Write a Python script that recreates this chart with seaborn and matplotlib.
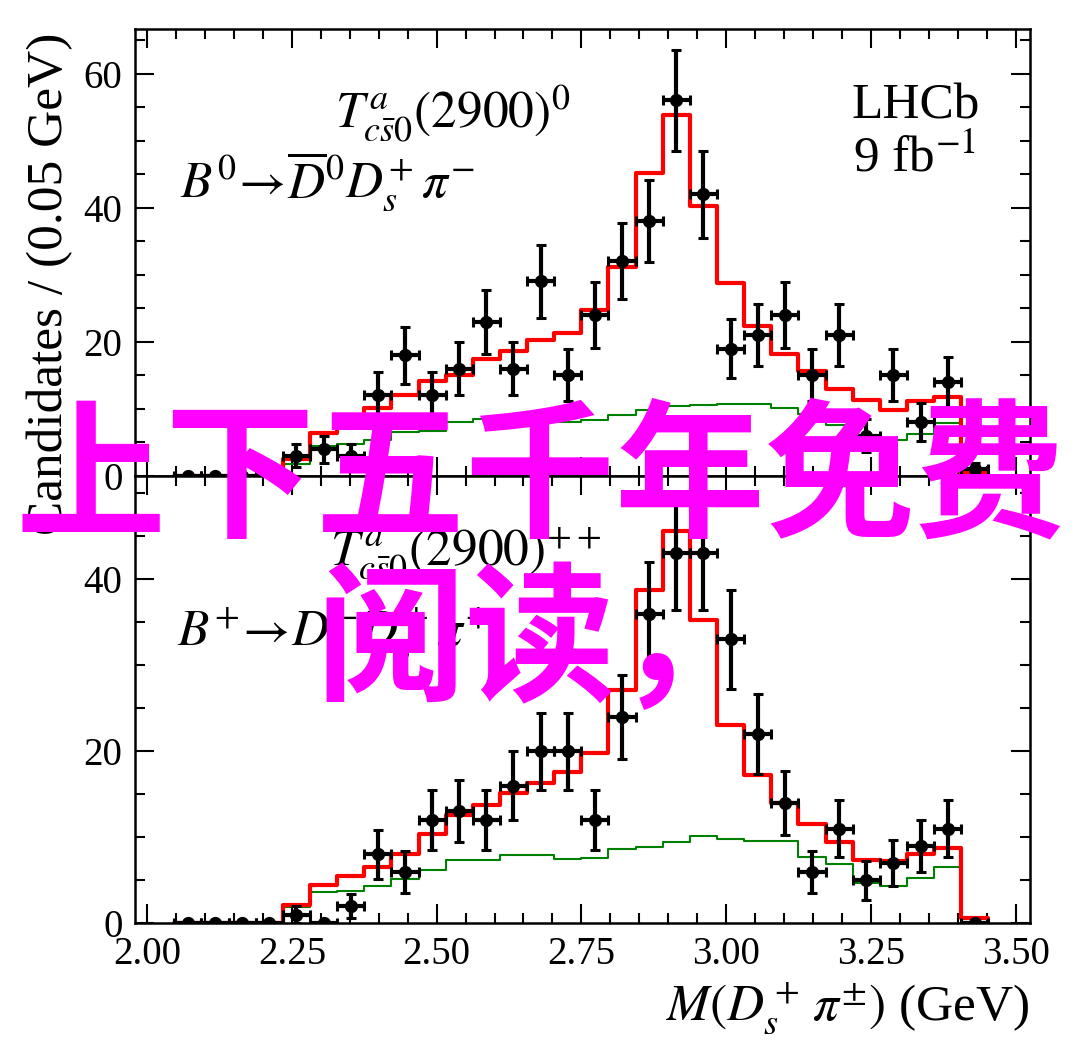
import numpy as np
import pandas as pd
import matplotlib
matplotlib.use("Agg")
import matplotlib.pyplot as plt
import seaborn as sns
from matplotlib.ticker import MultipleLocator, FormatStrFormatter

# 32 bins of 1.5/32 GeV between 2.0 and 3.5 GeV, data/fit shown for bins 1..30
bin_edges = np.linspace(2.0, 3.5, 33)
bin_centres = 0.5 * (bin_edges[:-1] + bin_edges[1:])
shown = slice(1, 31)

# B0 -> D0bar Ds+ pi-
top_counts = [0, 0, 0, 0, 3, 4, 3, 12, 18, 12, 16, 23, 16, 29, 15, 24, 32, 38, 56, 42,
              19, 21, 24, 15, 21, 6, 15, 8, 14, 1]
top_fit = [0, 0, 0, 0, 2.5, 6.4, 9.0, 10.2, 12.0, 14.2, 15.1, 17.5, 18.7, 20.3, 21.3, 24.8,
           31.1, 45.2, 53.8, 40.2, 28.7, 22.3, 18.2, 15.7, 13.0, 11.3, 9.9, 11.2, 11.8, 0.4]
top_bkg = [0, 0, 0, 0, 1.8, 4.4, 4.8, 5.4, 6.5, 6.7, 8.1, 8.5, 8.7, 8.8, 8.0, 8.4,
           9.1, 9.9, 10.4, 10.6, 10.8, 10.8, 10.1, 9.3, 7.6, 6.0, 5.3, 6.2, 7.9, 0.5]

# B+ -> D- Ds+ pi+
bot_counts = [0, 0, 0, 0, 1, 0, 2, 8, 6, 12, 13, 12, 16, 20, 20, 12, 24, 36, 43, 43,
              33, 22, 14, 6, 11, 5, 7, 9, 11, 0]
bot_fit = [0, 0, 0, 0, 2.1, 4.5, 5.5, 6.6, 8.1, 10.4, 12.6, 13.8, 15.2, 16.3, 17.6, 19.8,
           27.1, 38.8, 45.6, 35.3, 23.1, 17.2, 14.0, 11.5, 9.4, 7.4, 7.2, 8.1, 8.8, 0.6]
bot_bkg = [0, 0, 0, 0, 1.9, 3.6, 3.8, 4.3, 5.1, 6.2, 7.4, 7.3, 7.9, 7.9, 7.5, 7.6,
           8.6, 8.9, 9.5, 10.1, 9.8, 9.6, 9.6, 7.7, 6.9, 4.7, 4.3, 5.3, 6.6, 0.6]

sns.set_style("ticks")
plt.rcParams["font.family"] = ["Liberation Serif", "DejaVu Serif"]
plt.rcParams["mathtext.fontset"] = "stix"
for key in ["text.color", "axes.labelcolor", "axes.edgecolor", "xtick.color", "ytick.color"]:
    plt.rcParams[key] = "black"

fig = plt.figure(figsize=(10.8, 10.57), dpi=100)
ax_top = fig.add_axes([0.125, 0.5497, 0.8287, 0.4226])
ax_bot = fig.add_axes([0.125, 0.1265, 0.8287, 0.4232])

x = bin_centres[shown]
half_w = (bin_edges[1] - bin_edges[0]) / 2
hist_bins = [float(e) for e in bin_edges[1:32]]


def draw_panel(ax, counts, fit, bkg, ymax):
    df = pd.DataFrame({"m": x, "fit": fit, "bkg": bkg})
    sns.histplot(data=df, x="m", weights="bkg", bins=hist_bins, element="step",
                 fill=False, color="#008000", linewidth=1.5, ax=ax)
    sns.histplot(data=df, x="m", weights="fit", bins=hist_bins, element="step",
                 fill=False, color="#ff0000", linewidth=3, ax=ax)
    counts = np.array(counts, dtype=float)
    ax.errorbar(x, counts, yerr=np.sqrt(counts), xerr=half_w, fmt="o", color="black",
                ms=8.5, elinewidth=3.0, capsize=3.5, capthick=2.2, zorder=5)
    ax.set_xlim(1.979, 3.525)
    ax.set_ylim(0, ymax)
    ax.set_xlabel("")
    ax.set_ylabel("")
    ax.xaxis.set_major_locator(MultipleLocator(0.25))
    ax.xaxis.set_minor_locator(MultipleLocator(0.05))
    ax.yaxis.set_major_locator(MultipleLocator(20))
    ax.yaxis.set_minor_locator(MultipleLocator(5))
    ax.tick_params(which="both", direction="in", top=True, right=True, width=1.5,
                   labelsize=28, pad=9, colors="black")
    ax.tick_params(which="major", length=13.5)
    ax.tick_params(which="minor", length=7.5)
    for sp in ax.spines.values():
        sp.set_linewidth(1.8)
        sp.set_color("black")


draw_panel(ax_top, top_counts, top_fit, top_bkg, 66.6)
draw_panel(ax_bot, bot_counts, bot_fit, bot_bkg, 52.0)
ax_top.tick_params(labelbottom=False)
ax_bot.xaxis.set_major_formatter(FormatStrFormatter("%.2f"))

fs = 37
ax_top.text(0.2235, 0.779, r"$T^{a}_{c\bar{s}0}(2900)^{0}$", transform=ax_top.transAxes,
            fontsize=fs, ha="left", va="baseline")
ax_top.text(0.050, 0.6246, r"$B^{0}\!\rightarrow\!\overline{D}^{0}D_{s}^{+}\,\pi^{-}$",
            transform=ax_top.transAxes, fontsize=fs, ha="left", va="baseline")
ax_top.text(0.8008, 0.8008, "LHCb", transform=ax_top.transAxes, fontsize=fs,
            ha="left", va="baseline")
ax_top.text(0.8018, 0.681, r"9 fb$^{-1}$", transform=ax_top.transAxes, fontsize=fs,
            ha="left", va="baseline")

ax_bot.text(0.218, 0.801, r"$T^{a}_{c\bar{s}0}(2900)^{++}$", transform=ax_bot.transAxes,
            fontsize=fs, ha="left", va="baseline")
ax_bot.text(0.047, 0.622, r"$B^{+}\!\rightarrow\!D^{-}D_{s}^{+}\,\pi^{+}$",
            transform=ax_bot.transAxes, fontsize=fs, ha="left", va="baseline")

fig.text(50 / 1080, 1 - 33 / 1057, "Candidates / (0.05 GeV)", rotation=90,
         fontsize=fs, ha="center", va="top")
fig.text(1030 / 1080, 1 - 1020 / 1057, r"$M(D_s^+\,\pi^{\pm})$ (GeV)", fontsize=fs,
         ha="right", va="baseline")

# watermark overlay
wm = dict(fontsize=108, fontweight="bold", color="#ff00ff", ha="center", va="baseline",
          family=["Noto Sans CJK SC", "DejaVu Sans"])
fig.text(0.5, 1 - 525 / 1057, "上下五千年免费", **wm)
fig.text(0.5, 1 - 689 / 1057, "阅读，", **wm)

fig.savefig("out.png", dpi=100)
